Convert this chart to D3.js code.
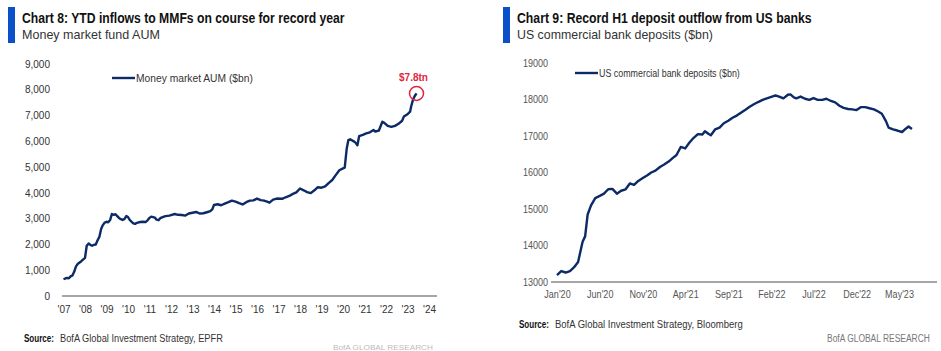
<!DOCTYPE html>
<html>
<head>
<meta charset="utf-8">
<script src="https://cdn.jsdelivr.net/npm/d3@7"></script>
<style>
  body { margin: 0; background: #fff; }
  svg { display: block; }
  text { font-family: "Liberation Sans", sans-serif; }
  .axis path, .axis line { display: none; }
</style>
</head>
<body>
<script>
// Chart 8 data: money market fund AUM ($bn), decimal years
var mmfYears = [2007.00, 2007.08, 2007.17, 2007.25, 2007.33, 2007.42, 2007.50, 2007.58, 2007.67, 2007.75, 2007.83, 2007.92,
  2008.00, 2008.08, 2008.17, 2008.25, 2008.33, 2008.42, 2008.50, 2008.58, 2008.67, 2008.75, 2008.83, 2008.92,
  2009.00, 2009.08, 2009.17, 2009.25, 2009.33, 2009.42, 2009.50, 2009.58, 2009.67, 2009.75, 2009.83, 2009.92,
  2010.00, 2010.08, 2010.17, 2010.25, 2010.33, 2010.42, 2010.50, 2010.67, 2010.83, 2010.92,
  2011.00, 2011.08, 2011.25, 2011.33, 2011.42, 2011.50, 2011.67, 2011.75, 2011.92,
  2012.00, 2012.17, 2012.33, 2012.50, 2012.67, 2012.83,
  2013.00, 2013.17, 2013.33, 2013.50, 2013.67, 2013.83, 2013.92,
  2014.00, 2014.17, 2014.33, 2014.50, 2014.67, 2014.83,
  2015.00, 2015.17, 2015.33, 2015.50, 2015.67, 2015.83,
  2016.00, 2016.17, 2016.33, 2016.50, 2016.58, 2016.75, 2016.92,
  2017.17, 2017.33, 2017.50, 2017.67, 2017.83,
  2018.00, 2018.17, 2018.33, 2018.50, 2018.67, 2018.83,
  2019.00, 2019.17, 2019.33, 2019.50, 2019.67, 2019.83,
  2020.00, 2020.08, 2020.17, 2020.25, 2020.33, 2020.50, 2020.58, 2020.67, 2020.75, 2020.92,
  2021.08, 2021.25, 2021.42, 2021.50, 2021.67, 2021.83, 2021.92,
  2022.08, 2022.25, 2022.42, 2022.58, 2022.75, 2022.83,
  2023.00, 2023.12, 2023.17, 2023.25, 2023.33, 2023.42];
var mmfValues = [650, 680, 700, 690, 760, 800, 950, 1150, 1250, 1300, 1350, 1420,
  1480, 1950, 2040, 1980, 1950, 1990, 2000, 2150, 2300, 2600, 2750, 2850,
  2880, 2860, 2950, 3180, 3150, 3170, 3100, 3030, 2980, 2950, 2980, 3100,
  3060, 2950, 2880, 2820, 2800, 2840, 2860, 2880, 2870, 2950,
  3030, 3080, 3040, 2960, 2940, 3020, 3080, 3100, 3120,
  3140, 3180, 3150, 3140, 3120, 3200,
  3230, 3260, 3200, 3210, 3250, 3290, 3360,
  3530, 3560, 3520, 3580, 3640, 3700,
  3660, 3600, 3550, 3640, 3700, 3710,
  3780, 3720, 3700, 3650, 3620, 3740, 3780,
  3770, 3830, 3880, 3960, 4020,
  4170, 4100, 4030, 3990, 4100, 4220,
  4200, 4250, 4380, 4500, 4700, 4880,
  4950, 4980, 5700, 6050, 6080, 6000, 5950, 5850, 6200, 6250,
  6310, 6350, 6440, 6380, 6420, 6760, 6720,
  6600, 6560, 6600, 6680, 6800, 6960,
  7050, 7150, 7350, 7600, 7750, 7860];
var mmfYTicks = [0, 1000, 2000, 3000, 4000, 5000, 6000, 7000, 8000, 9000];
var mmfXTicks = [2007, 2008, 2009, 2010, 2011, 2012, 2013, 2014, 2015, 2016, 2017, 2018, 2019, 2020, 2021, 2022, 2023, 2024];
var mmfXLabels = ["'07", "'08", "'09", "'10", "'11", "'12", "'13", "'14", "'15", "'16", "'17", "'18", "'19", "'20", "'21", "'22", "'23", "'24"];

// Chart 9 data: US commercial bank deposits ($bn)
var depDates = ["2020-01-01", "2020-01-16", "2020-02-01", "2020-02-16", "2020-03-01", "2020-03-16", "2020-04-01", "2020-04-10", "2020-04-19", "2020-05-01", "2020-05-16",
  "2020-06-01", "2020-06-16", "2020-07-01", "2020-07-16", "2020-08-01", "2020-08-16", "2020-09-01", "2020-09-16", "2020-10-01", "2020-10-16", "2020-11-01", "2020-11-16",
  "2020-12-01", "2020-12-16", "2021-01-01", "2021-01-16", "2021-02-01", "2021-02-16", "2021-03-01", "2021-03-16", "2021-04-01", "2021-04-16", "2021-05-01", "2021-05-16",
  "2021-06-01", "2021-06-10", "2021-06-22", "2021-07-01", "2021-07-16", "2021-08-01", "2021-08-16", "2021-09-01", "2021-09-16", "2021-10-01", "2021-10-16", "2021-11-01",
  "2021-11-16", "2021-12-01", "2021-12-16", "2022-01-01", "2022-01-16", "2022-02-01", "2022-02-16", "2022-03-01", "2022-03-16", "2022-04-01", "2022-04-10", "2022-04-22",
  "2022-05-01", "2022-05-16", "2022-06-01", "2022-06-16", "2022-07-01", "2022-07-16", "2022-08-01", "2022-08-16", "2022-09-01", "2022-09-16", "2022-10-01", "2022-10-16",
  "2022-11-01", "2022-11-16", "2022-12-01", "2022-12-16", "2023-01-01", "2023-01-16", "2023-02-01", "2023-02-16", "2023-03-01", "2023-03-16", "2023-03-25", "2023-04-10",
  "2023-04-25", "2023-05-12", "2023-05-25", "2023-06-04", "2023-06-16"];
var depValues = [13190, 13300, 13260, 13300, 13400, 13550, 14100, 14250, 14850, 15100, 15300,
  15360, 15420, 15540, 15550, 15420, 15500, 15540, 15700, 15660, 15770, 15850, 15920,
  16000, 16050, 16150, 16220, 16300, 16400, 16480, 16700, 16660, 16820, 16950, 17050,
  17040, 17130, 17060, 17020, 17180, 17230, 17350, 17420, 17500, 17560, 17640, 17720,
  17800, 17870, 17930, 17990, 18030, 18070, 18110, 18080, 18030, 18130, 18140, 18060,
  18030, 18080, 18020, 17990, 18040, 17990, 17990, 18020, 17960, 17920, 17830, 17770,
  17740, 17730, 17710, 17790, 17790, 17760, 17730, 17670, 17610, 17400, 17230, 17180,
  17150, 17110, 17200, 17260, 17190];
var depYTicks = [13000, 14000, 15000, 16000, 17000, 18000, 19000];
var depXTicks = ["2020-01-01", "2020-06-01", "2020-11-01", "2021-04-01", "2021-09-01", "2022-02-01", "2022-07-01", "2022-12-01", "2023-05-01"];
var depXLabels = ["Jan'20", "Jun'20", "Nov'20", "Apr'21", "Sep'21", "Feb'22", "Jul'22", "Dec'22", "May'23"];

var lineColor = "#0b2a66";
var parseDate = d3.timeParse("%Y-%m-%d");

var svg = d3.select("body").append("svg")
  .attr("width", 941)
  .attr("height", 351);

// no condensed font installed: draw text then squeeze it horizontally to the wanted width
function squeezed(parent, x, y, str, width, size, weight, color) {
  var t = parent.append("text")
    .style("font-size", size + "px")
    .style("font-weight", weight)
    .attr("fill", color)
    .text(str);
  var sx = width / t.node().getComputedTextLength();
  t.attr("transform", `translate(${x},${y}) scale(${sx},1)`);
  return t;
}

// headers
function header(x, title, subtitle, tw, sw) {
  svg.append("rect").attr("x", x).attr("y", 7).attr("width", 7).attr("height", 36).attr("fill", "#0a50c8");
  squeezed(svg, x + 14, 23, title, tw, 14, "bold", "#111");
  squeezed(svg, x + 14, 39, subtitle, sw, 13, "normal", "#333");
}
header(8, "Chart 8: YTD inflows to MMFs on course for record year", "Money market fund AUM", 323, 138);
header(503, "Chart 9: Record H1 deposit outflow from US banks", "US commercial bank deposits ($bn)", 295, 196);

// ---- Chart 8 ----
var x1 = d3.scaleLinear().domain([2007, 2024]).range([63.5, 429]);
var y1 = d3.scaleLinear().domain([0, 9000]).range([296, 64]);

var g1 = svg.append("g");
g1.append("g").attr("class", "axis")
  .attr("transform", "translate(50,0)")
  .call(d3.axisLeft(y1).tickValues(mmfYTicks).tickSize(0).tickPadding(0).tickFormat(d3.format(",")))
  .selectAll("text")
  .style("font-family", "Liberation Sans, sans-serif").style("font-size", "10px").attr("fill", "#333");

g1.append("g").attr("class", "axis")
  .attr("transform", "translate(0,306)")
  .call(d3.axisBottom(x1).tickValues(mmfXTicks).tickSize(0).tickPadding(0).tickFormat((d, i) => mmfXLabels[i]))
  .selectAll("text")
  .style("font-family", "Liberation Sans, sans-serif").style("font-size", "10px").attr("fill", "#333");

g1.append("line").attr("x1", 62).attr("x2", 437).attr("y1", y1(0)).attr("y2", y1(0))
  .attr("stroke", "#888").attr("stroke-width", 1.5);

g1.append("path")
  .datum(mmfYears.map((d, i) => [d, mmfValues[i]]))
  .attr("fill", "none").attr("stroke", lineColor).attr("stroke-width", 2.4).attr("stroke-linejoin", "round")
  .attr("d", d3.line().x(d => x1(d[0])).y(d => y1(d[1])));

// legend
g1.append("line").attr("x1", 112).attr("x2", 135).attr("y1", 78).attr("y2", 78).attr("stroke", lineColor).attr("stroke-width", 2.4);
squeezed(g1, 136, 81.5, "Money market AUM ($bn)", 117, 10.5, "normal", "#333");

// last point annotation
var lastX = x1(mmfYears[mmfYears.length - 1]);
var lastY = y1(mmfValues[mmfValues.length - 1]);
g1.append("circle").attr("cx", lastX).attr("cy", lastY).attr("r", 7)
  .attr("fill", "none").attr("stroke", "#e0283c").attr("stroke-width", 1.5);
g1.append("text").attr("x", lastX - 3).attr("y", lastY - 12).attr("text-anchor", "middle").text("$7.8tn")
  .style("font-size", "10px").style("font-weight", "bold").attr("fill", "#e0283c");

// ---- Chart 9 ----
var x2 = d3.scaleTime().domain([parseDate("2020-01-01"), parseDate("2023-05-01")]).range([557, 899]);
var y2 = d3.scaleLinear().domain([13000, 19000]).range([282, 63]);

var g2 = svg.append("g");
g2.append("g").attr("class", "axis")
  .attr("transform", "translate(548,0)")
  .call(d3.axisLeft(y2).tickValues(depYTicks).tickSize(0).tickPadding(0).tickFormat(d3.format("d")))
  .selectAll("text")
  .style("font-size", "10.5px").attr("fill", "#555")
  .attr("transform", "scale(0.86,1)");

g2.append("g").attr("class", "axis")
  .attr("transform", "translate(0,291)")
  .call(d3.axisBottom(x2).tickValues(depXTicks.map(parseDate)).tickSize(0).tickPadding(0).tickFormat((d, i) => depXLabels[i]))
  .selectAll("text")
  .style("font-size", "10.5px").attr("fill", "#555")
  .attr("transform", "scale(0.86,1)");

g2.append("line").attr("x1", 551).attr("x2", 937).attr("y1", y2(13000)).attr("y2", y2(13000))
  .attr("stroke", "#888").attr("stroke-width", 1.5);

g2.append("path")
  .datum(depDates.map((d, i) => [parseDate(d), depValues[i]]))
  .attr("fill", "none").attr("stroke", lineColor).attr("stroke-width", 2.4).attr("stroke-linejoin", "round")
  .attr("d", d3.line().x(d => x2(d[0])).y(d => y2(d[1])));

g2.append("line").attr("x1", 575).attr("x2", 598).attr("y1", 73).attr("y2", 73).attr("stroke", lineColor).attr("stroke-width", 2.4);
squeezed(g2, 599, 76.5, "US commercial bank deposits ($bn)", 141, 10.5, "normal", "#333");

// ---- footers ----
squeezed(svg, 24, 342, "Source:", 30, 11, "bold", "#111");
squeezed(svg, 60, 342, "BofA Global Investment Strategy, EPFR", 163, 11, "normal", "#333");
squeezed(svg, 519, 328, "Source:", 30, 11, "bold", "#111");
squeezed(svg, 555, 328, "BofA Global Investment Strategy, Bloomberg", 188, 11, "normal", "#333");

squeezed(svg, 827, 342, "BofA GLOBAL RESEARCH", 103, 11.5, "normal", "#777");
squeezed(svg, 333, 350, "BofA GLOBAL RESEARCH", 100, 8, "normal", "#bbb");
</script>
</body>
</html>
